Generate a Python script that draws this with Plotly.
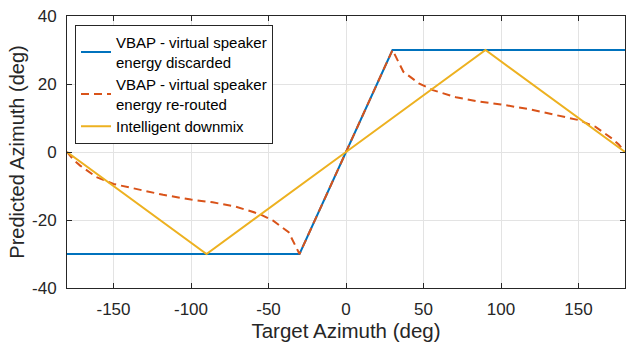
import plotly.graph_objects as go

# Data
disc_x = [-180, -30, 30, 180]
disc_y = [-30, -30, 30, 30]

rer_x = [-180, -176, -171.5, -166, -161, -150, -135, -118, -100, -86, -71, -56, -47, -37, -30,
         30, 37, 47, 56, 71, 86, 100, 118, 135, 150, 161, 166, 171.5, 176, 180]
rer_y = [0, -2.2, -4, -5.8, -7.4, -9.4, -10.9, -12.6, -14, -14.8, -16.1, -18.2, -20.2, -23.6, -30,
         30, 23.6, 20.2, 18.2, 16.1, 14.8, 14, 12.6, 10.9, 9.4, 7.4, 5.8, 4, 2.2, 0]

intel_x = [-180, -90, 0, 90, 180]
intel_y = [0, -30, 0, 30, 0]

x_ticks = [-150, -100, -50, 0, 50, 100, 150]
x_tick_labels = ["-150", "-100", "-50", "0", "50", "100", "150"]
y_ticks = [-40, -20, 0, 20, 40]
y_tick_labels = ["-40", "-20", "0", "20", "40"]

names = ["VBAP - virtual speaker<br>energy discarded",
         "VBAP - virtual speaker<br>energy re-routed",
         "Intelligent downmix"]

BLUE = "#0072BD"
ORANGE = "#D95319"
YELLOW = "#EDB120"
AX = "#262626"
FONT = "Liberation Sans, Arial, Helvetica, sans-serif"

fig = go.Figure()
fig.add_trace(go.Scatter(x=disc_x, y=disc_y, mode="lines", name=names[0],
                         line=dict(color=BLUE, width=2)))
fig.add_trace(go.Scatter(x=rer_x, y=rer_y, mode="lines", name=names[1],
                         line=dict(color=ORANGE, width=2, dash="8px,5px")))
fig.add_trace(go.Scatter(x=intel_x, y=intel_y, mode="lines", name=names[2],
                         line=dict(color=YELLOW, width=2)))

W, H = 626, 343
ml, mr, mt, mb = 67, 1, 16, 55
pw = W - ml - mr
ph = H - mt - mb

axis_common = dict(
    showline=True, linecolor=AX, linewidth=1, mirror="ticks",
    ticks="inside", ticklen=5, tickcolor=AX, tickwidth=1,
    showgrid=True, gridcolor="#e3e3e3", gridwidth=1,
    zeroline=False,
    tickfont=dict(family=FONT, size=17, color=AX),
)

fig.update_layout(
    width=W, height=H,
    margin=dict(l=ml, r=mr, t=mt, b=mb),
    paper_bgcolor="white", plot_bgcolor="white",
    font=dict(family=FONT, color=AX),
    xaxis=dict(range=[-180, 180], tickvals=x_ticks, ticktext=x_tick_labels, ticklabelstandoff=6,
               title=dict(text="Target Azimuth (deg)", font=dict(family=FONT, size=20.5, color=AX), standoff=5),
               **axis_common),
    yaxis=dict(range=[-40, 40], tickvals=y_ticks, ticktext=y_tick_labels, ticklabelstandoff=6,
               title=dict(text="Predicted Azimuth (deg)", font=dict(family=FONT, size=20, color=AX), standoff=2),
               **axis_common),
    legend=dict(
        x=(75 - ml) / pw, y=1 - (25 - mt) / ph, xanchor="left", yanchor="top",
        bgcolor="white", bordercolor=AX, borderwidth=1,
        font=dict(family=FONT, size=15, color="black"),
        tracegroupgap=0, itemwidth=30, valign="middle",
    ),
    showlegend=True,
)

fig.write_html("out.html")
